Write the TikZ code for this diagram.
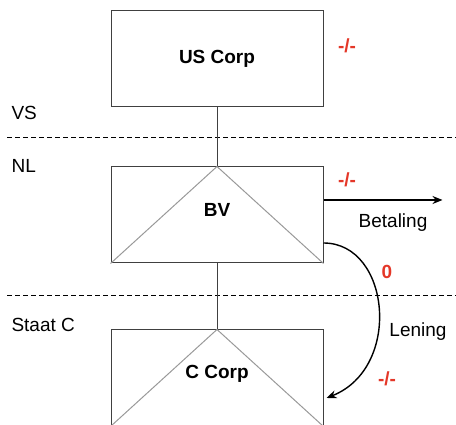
\documentclass[tikz,border=0pt]{standalone}
\usepackage{fontspec}
\setmainfont{Liberation Sans}
\usepackage{tikz}
\usetikzlibrary{arrows.meta, positioning, calc}
\definecolor{taxred}{RGB}{228,55,40}

\begin{document}
\begin{tikzpicture}[
        x=1pt, y=1pt,
        entity/.style={rectangle, draw=black!75, line width=1pt, minimum width=212pt, minimum height=96pt, inner sep=0pt},
        corplabel/.style={font=\fontsize{19}{22}\selectfont\bfseries},
        land/.style={font=\fontsize{19}{22}\selectfont, anchor=west},
        tax/.style={text=taxred, font=\fontsize{19}{22}\selectfont\bfseries},
        note/.style={font=\fontsize{19}{22}\selectfont},
        border/.style={dashed, dash pattern=on 5pt off 3pt, line width=1pt},
        hybrid/.style={draw=black!40, line width=1pt},
        link/.style={draw=black!75, line width=1pt},
        arrow/.style={-{Stealth[length=10pt, width=8pt]}, line width=1.4pt}
    ]
        \useasboundingbox (0,0) rectangle (456,425);

        % landsgrenzen
        \draw[border] (7,287) -- (456,287);
        \draw[border] (7,129) -- (456,129);
        \node[land] (vs) at (8,312) {VS};
        \node[land] (nl) at (8,259) {NL};
        \node[land] (staatc) at (8,100) {Staat C};

        % entiteiten
        \node[entity] (us) at (217,366) {};
        \node[corplabel] at (us.center) {US Corp};
        \node[entity] (bv) at (217,210) {};
        \node[entity] (cc) at (217,47) {};
        \draw[hybrid] (bv.south west) -- (bv.north) -- (bv.south east);
        \draw[hybrid] (cc.south west) -- (cc.north) -- (cc.south east);
        \node[corplabel] at (217,215) {BV};
        \node[corplabel] at (217,51) {C Corp};

        % aandeelhouderschap
        \draw[link] (us.south) -- (bv.north);
        \draw[link] (bv.south) -- (cc.north);

        % betaling en lening
        \coordinate (uit) at ($(bv.east)+(119,15)$);
        \draw[arrow] ($(bv.east)+(0,15)$) -- (uit);
        \draw[arrow] ($(bv.east)+(0,-28)$) .. controls +(67,0) and +(76,30) .. ($(cc.east)+(3,-20)$);

        \node[tax] (t1) at (347,379) {-/-};
        \node[tax] (t2) at (347,245) {-/-};
        \node[note] (bet) at (393,202) {Betaling};
        \node[tax] (t3) at (387,153) {0};
        \node[note] (len) at (418,93) {Lening};
        \node[tax] (t4) at (387,46) {-/-};
    \end{tikzpicture}
\end{document}
